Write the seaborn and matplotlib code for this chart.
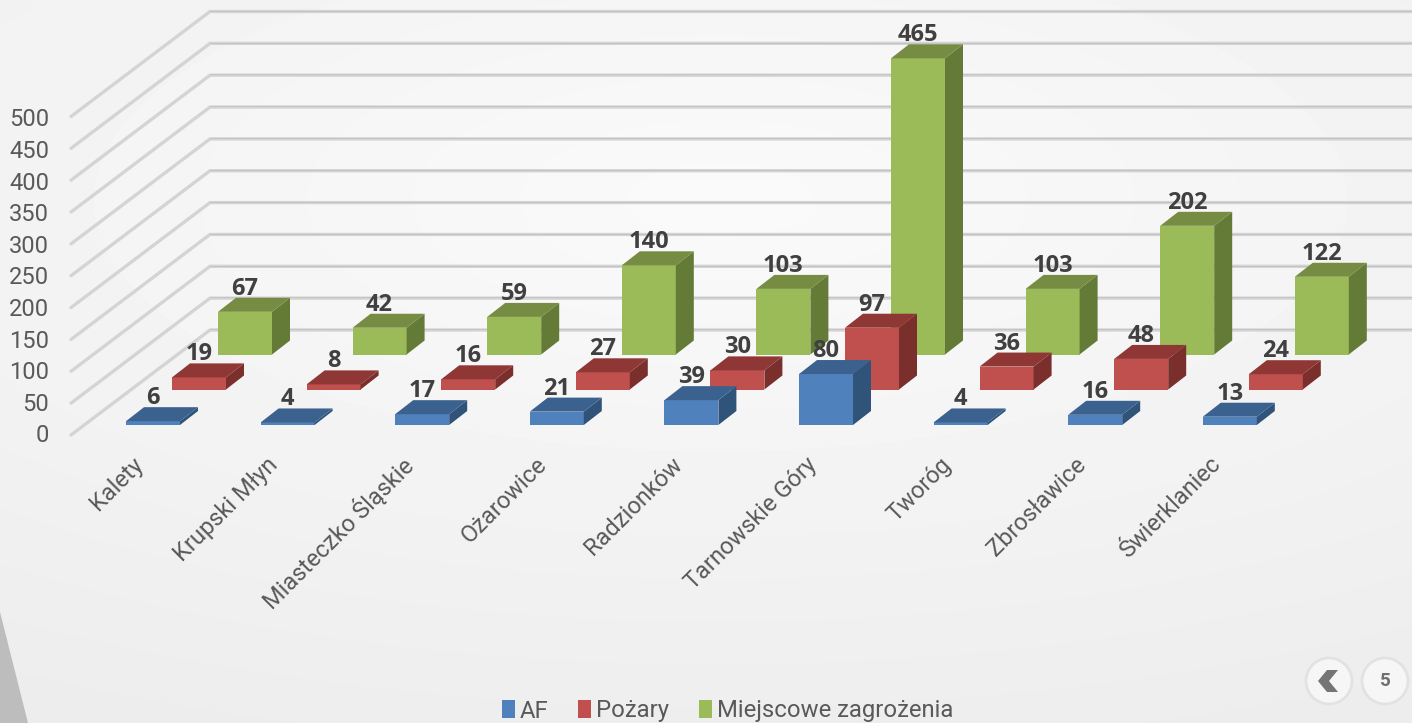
import numpy as np
import pandas as pd
import seaborn as sns
import matplotlib.pyplot as plt
from matplotlib.patches import Patch, Polygon, Circle
from matplotlib.transforms import ScaledTranslation

# Values
gminy = ['Kalety', 'Krupski Młyn', 'Miasteczko Śląskie', 'Ożarowice', 'Radzionków',
         'Tarnowskie Góry', 'Tworóg', 'Zbrosławice', 'Świerklaniec']
af = [6, 4, 17, 21, 39, 80, 4, 16, 13]
pozary = [19, 8, 16, 27, 30, 97, 36, 48, 24]
zagrozenia = [67, 42, 59, 140, 103, 465, 103, 202, 122]
y_ticks = [0, 50, 100, 150, 200, 250, 300, 350, 400, 450, 500]

df = pd.DataFrame({'gmina': gminy, 'AF': af, 'Pożary': pozary, 'Miejscowe zagrożenia': zagrozenia})

sns.set_theme(style='white')
plt.rcParams['font.family'] = ['Roboto', 'DejaVu Sans']

W, H = 1412, 723
PX_PER_UNIT = 0.637
STEP = 134.6
BAR_W = 54
DEPTH_X, DEPTH_Y = 18, 14

fig = plt.figure(figsize=(W / 100, H / 100), dpi=100)

# Background, lighter in the middle and darker towards the bottom
bg = fig.add_axes([0, 0, 1, 1], zorder=0)
yy, xx = np.mgrid[0:H, 0:W]
dist = np.sqrt(((xx - 720) / 1500) ** 2 + ((yy - 200) / 600) ** 2)
bg.imshow(np.clip(0.98 - 0.055 * dist, 0, 1), cmap='gray', vmin=0, vmax=1, aspect='auto',
          extent=[0, W, H, 0], interpolation='bilinear')
bg.add_patch(Polygon([(0, 612), (28, H), (0, H)], color='#bdbdbd', lw=0))

# Walls: back wall lines and diagonals
for v in y_ticks:
    y_back = 330 - v * PX_PER_UNIT
    y_left = y_back + 105
    bg.plot([71, 210, W], [y_left, y_back, y_back], color='#d4d4d4', lw=2.4, solid_joinstyle='miter')
    bg.plot([210, W], [y_back - 0.8, y_back - 0.8], color='#c4c4c4', lw=0.7)
    bg.text(49, 436 - v * 0.632, str(v), ha='right', va='center', fontsize=17, color='#595959')

# Previous / page buttons
for cx in [1329, 1385]:
    bg.add_patch(Circle((cx, 681), 23, fc='#f6f6f6', ec='#e2e2e2', lw=2))
bg.add_patch(Polygon([(1338, 670), (1327, 670), (1318, 681), (1327, 692), (1338, 692), (1329, 681)],
                     color='#757575', lw=0))
bg.text(1385, 681, '5', ha='center', va='center', fontsize=13.5, fontweight='bold', color='#6f6f6f')
bg.set_xlim(0, W)
bg.set_ylim(H, 0)
bg.axis('off')

# One axes per row of bars: (column, front, side, top, x of first bar centre, pixel y of baseline)
rows = [
    ('Miejscowe zagrożenia', '#9bbb59', '#647a37', '#768c43', 245, 354.5),
    ('Pożary', '#c0504d', '#7a2f2d', '#8e3735', 199, 389.5),
    ('AF', '#4f81bd', '#2f5379', '#3b618f', 153, 425),
]

for z, (col, front, side, top, x0, base) in enumerate(rows, start=1):
    ax = fig.add_axes([0, 1 - base / H, 1, base / H], zorder=z)
    ax.patch.set_alpha(0)
    sns.barplot(data=df, x='gmina', y=col, ax=ax, color=front, saturation=1,
                width=BAR_W / STEP, linewidth=0)
    ax.set_xlim(-x0 / STEP, (W - x0) / STEP)
    ax.set_ylim(0, base / PX_PER_UNIT)

    dx = DEPTH_X / STEP
    dy = DEPTH_Y / PX_PER_UNIT
    for bar in ax.patches:
        left, right, h = bar.get_x(), bar.get_x() + bar.get_width(), bar.get_height()
        ax.add_patch(Polygon([(right, 0), (right + dx, dy), (right + dx, h + dy), (right, h)],
                             fc=side, lw=0))
        ax.add_patch(Polygon([(left, h), (right, h), (right + dx, h + dy), (left + dx, h + dy)],
                             fc=top, lw=0))
        ax.text((left + right) / 2, h + dy + 9 / PX_PER_UNIT, f'{h:.0f}', ha='center', va='center',
                fontsize=17, fontweight='bold', family='Open Sans', color='#404040', clip_on=False)

    ax.set_xlabel('')
    ax.set_ylabel('')
    ax.set_yticks([])
    sns.despine(ax=ax, left=True, bottom=True)
    if col == 'AF':
        ax.tick_params(axis='x', length=0, pad=26, labelsize=17, labelcolor='#595959')
        shift = ScaledTranslation(-13 / 100, 0, fig.dpi_scale_trans)
        for lab in ax.get_xticklabels():
            lab.set_transform(lab.get_transform() + shift)
        plt.setp(ax.get_xticklabels(), rotation=45, ha='right', va='center', rotation_mode='anchor')
    else:
        ax.set_xticks([])

handles = [Patch(color=r[1], label=r[0], lw=0) for r in reversed(rows)]
fig.legend(handles=handles, ncols=3, loc='center', bbox_to_anchor=(727.5 / W, 1 - 711 / H),
           frameon=False, fontsize=17.2, labelcolor='#595959', handlelength=0.55, handleheight=0.8,
           handletextpad=0.2, columnspacing=1.25, borderpad=0)

fig.savefig('out.png', dpi=100)
